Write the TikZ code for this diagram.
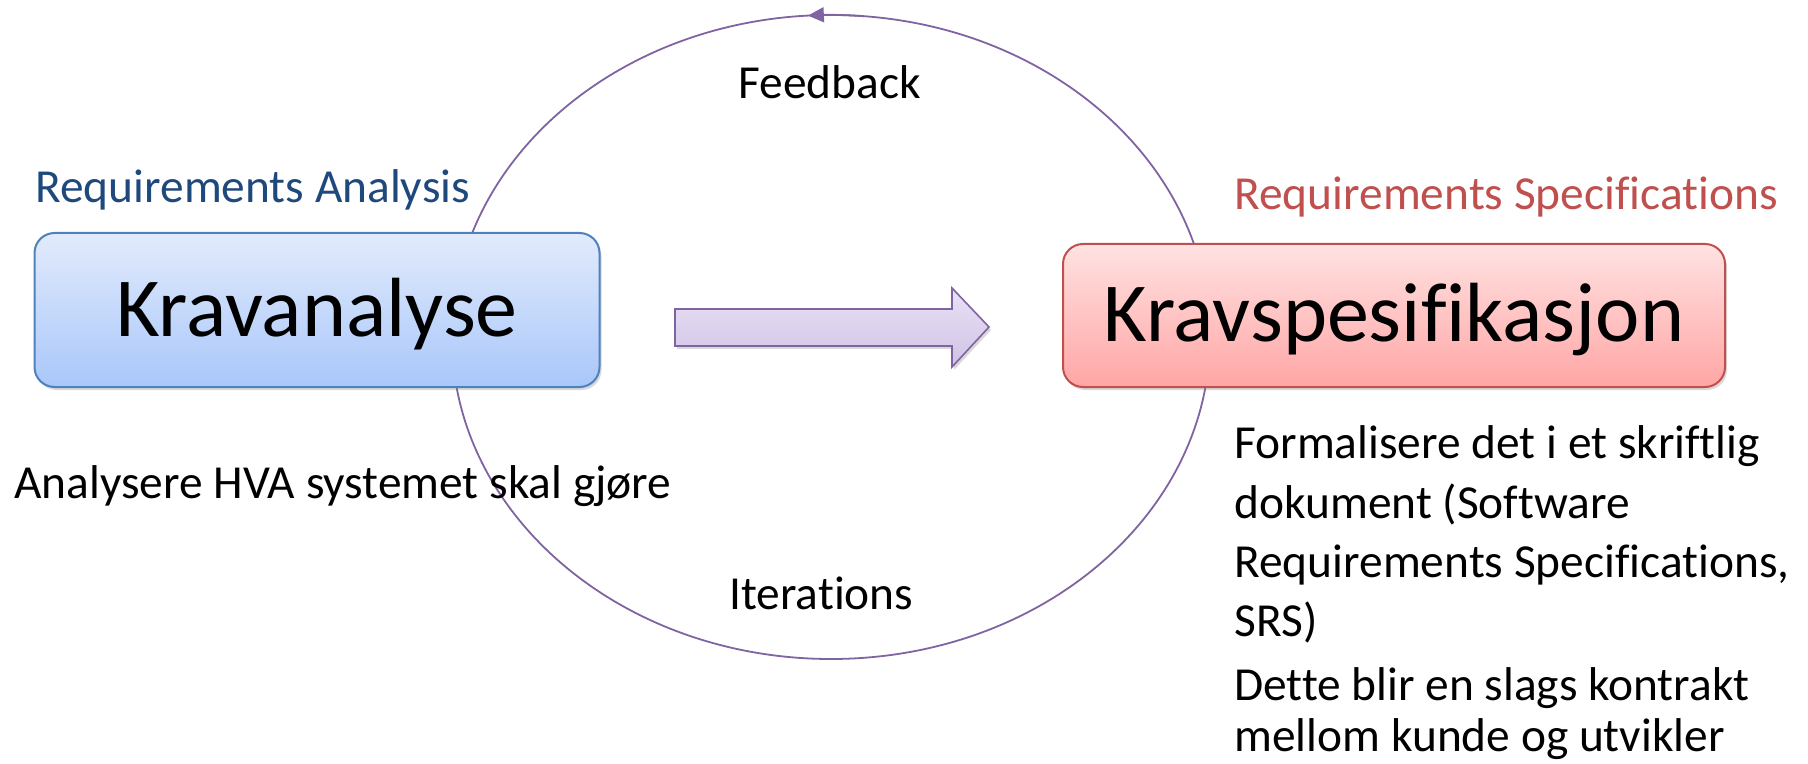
\documentclass[tikz,border=0pt]{standalone}
\usepackage{fontspec}
\setmainfont{Carlito}[Ligatures=NoCommon]
\usetikzlibrary{arrows.meta}
\usetikzlibrary{shadows}

\definecolor{anaBorder}{HTML}{4F81BD}
\definecolor{anaTop}{HTML}{E2EBFC}
\definecolor{anaBot}{HTML}{A9C7FA}
\definecolor{speBorder}{HTML}{C0504D}
\definecolor{speTop}{HTML}{FFE2E2}
\definecolor{speBot}{HTML}{FFA6A5}
\definecolor{flowBorder}{HTML}{8064A2}
\definecolor{flowTop}{HTML}{E9E2F4}
\definecolor{flowBot}{HTML}{D0C2E6}
\definecolor{headBlue}{HTML}{1F497D}
\definecolor{headRed}{HTML}{C0504D}

\begin{document}
\begin{tikzpicture}[x=0.5pt,y=-0.5pt,
  txt/.style={anchor=base west,inner sep=0pt,font=\fontsize{23.7}{29.6}\selectfont},
  kravbox/.style={rounded corners=10pt,line width=1pt,inner sep=0pt,
    text height=26.5pt,text depth=0pt,font=\fontsize{42}{50}\selectfont,
    drop shadow={opacity=0.3,shadow xshift=1pt,shadow yshift=-1.5pt}},
  cycleline/.style={draw=flowBorder,line width=0.9pt}]
\useasboundingbox (0,0) rectangle (1808,764);

%feedback loop
\coordinate (loopc) at (831,337);
\draw[cycleline] (loopc) ellipse [x radius=379, y radius=322];
\draw[cycleline,-{Triangle[length=8pt,width=7.5pt]}] (loopc) ++(-85:379 and 322)
  arc[start angle=-85, end angle=-93.5, x radius=379, y radius=322];
\node[txt] (feedback) at (738,99)  {Feedback};
\node[txt] (iter)     at (729,609) {Iterations};

%boxes
\node[kravbox,draw=anaBorder,top color=anaTop,bottom color=anaBot,
  minimum width=282.5pt,minimum height=77pt] (analyse) at (317,310) {Kravanalyse};
\node[kravbox,draw=speBorder,top color=speTop,bottom color=speBot,
  minimum width=331pt,minimum height=71.5pt] (spes) at (1394,315.5) {Kravspesifikasjon};

%block arrow
\draw[draw=flowBorder,line width=0.8pt,top color=flowTop,bottom color=flowBot,
  drop shadow={opacity=0.3,shadow xshift=1pt,shadow yshift=-1.5pt}]
  (675,309)--(952,309)--(952,288)--(989,327)--(952,367)--(952,346)--(675,346)--cycle;

%headings
\node[txt,text=headBlue] (reqA) at (35,203)   {Requirements Analysis};
\node[txt,text=headRed]  (reqS) at (1234,210) {Requirements Specifications};

%left text
\node[txt] (hva) at (14,498) {Analysere HVA systemet skal gjøre};

%right text
\node[txt] (srs1) at (1234,458) {Formalisere det i et skriftlig};
\node[txt] (srs2) at (1234,518) {dokument (Software};
\node[txt] (srs3) at (1234,577) {Requirements Specifications,};
\node[txt] (srs4) at (1234,636) {SRS)};
\node[txt] (deal1) at (1234,700) {Dette blir en slags kontrakt};
\node[txt] (deal2) at (1234,751) {mellom kunde og utvikler};
\end{tikzpicture}
\end{document}
